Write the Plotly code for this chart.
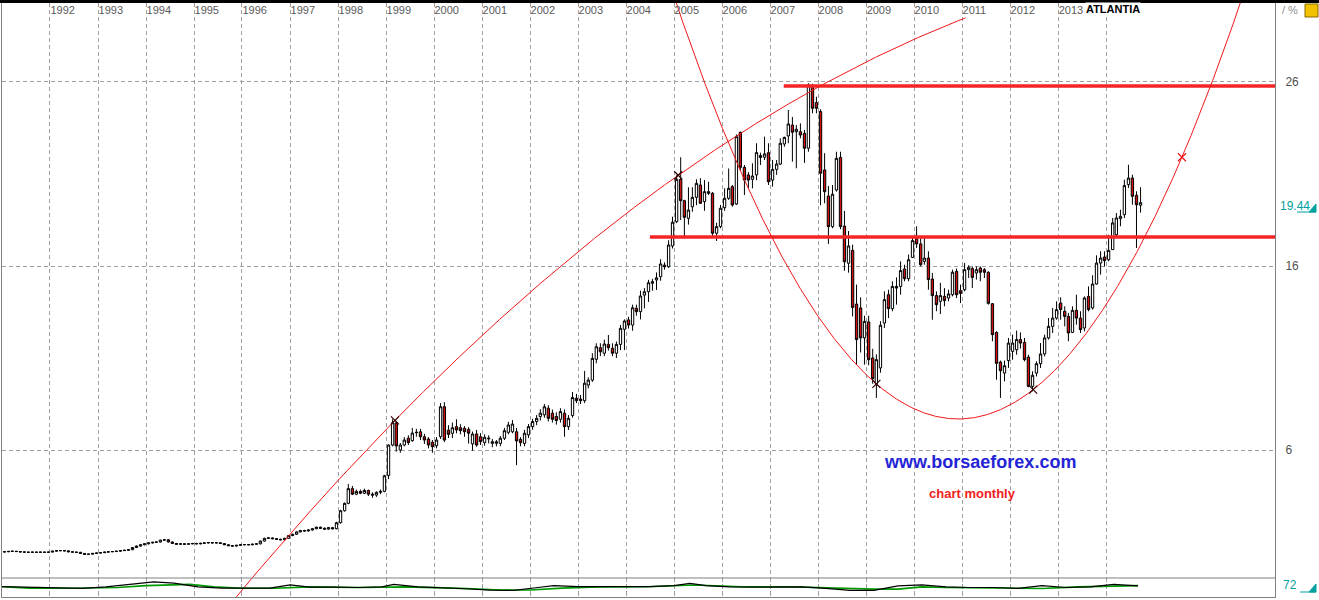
import numpy as np
import pandas as pd
import plotly.graph_objects as go

# ---------------- data (monthly candles, Jan 1991 .. Sep 2014) ----------------
opens = [
    0.46, 0.47, 0.49, 0.50, 0.48, 0.46, 0.45, 0.44, 0.45, 0.44, 0.45, 0.44,
    0.45, 0.50, 0.53, 0.53, 0.52, 0.47, 0.45, 0.44, 0.38, 0.33, 0.34, 0.38,
    0.40, 0.42, 0.45, 0.47, 0.48, 0.50, 0.53, 0.55, 0.58, 0.70, 0.78, 0.85,
    0.90, 0.95, 0.98, 1.00, 1.10, 1.12, 1.00, 0.92, 0.88, 0.90, 0.88, 0.90,
    0.92, 0.90, 0.93, 0.95, 0.97, 0.95, 0.96, 0.92, 0.85, 0.80, 0.78, 0.82,
    0.85, 0.86, 0.85, 0.88, 0.90, 1.05, 1.20, 1.22, 1.18, 1.15, 1.12, 1.20,
    1.35, 1.42, 1.55, 1.62, 1.60, 1.65, 1.72, 1.80, 1.75, 1.70, 1.78, 1.72,
    2.05, 2.70, 3.10, 3.90, 3.60, 3.75, 3.65, 3.80, 3.60, 3.55, 3.70, 3.75,
    4.62, 6.27, 7.47, 6.00, 6.27, 6.64, 6.51, 6.94, 6.99, 6.72, 6.60, 6.42,
    6.23, 6.72, 8.35, 7.08, 6.91, 7.27, 7.21, 7.18, 7.12, 6.33, 6.87, 6.72,
    6.40, 6.60, 6.36, 6.36, 6.36, 6.64, 6.96, 6.99, 6.99, 6.58, 6.36, 6.82,
    7.27, 7.55, 7.82, 7.91, 8.27, 8.00, 7.82, 7.67, 8.00, 7.27, 7.88, 8.81,
    8.77, 8.68, 9.53, 9.80, 10.93, 11.56, 11.26, 11.74, 11.53, 11.26, 11.74, 12.56,
    13.07, 12.79, 13.70, 13.52, 14.42, 14.60, 15.06, 15.24, 15.42, 16.05, 15.96, 17.09,
    18.41, 20.71, 19.55, 18.59, 19.22, 19.73, 20.40, 19.50, 20.04, 19.95, 17.78, 18.14,
    19.17, 19.68, 20.31, 19.37, 23.27, 21.36, 20.95, 20.71, 20.95, 22.00, 21.91, 22.16,
    20.67, 21.25, 21.54, 22.63, 23.07, 23.66, 23.30, 23.30, 23.21, 22.40, 25.78, 24.88,
    24.39, 21.22, 19.80, 18.14, 20.13, 21.90, 18.17, 16.15, 16.85, 13.93, 13.72, 12.09,
    12.96, 11.00, 9.60, 10.46, 12.90, 14.44, 13.68, 14.89, 14.89, 15.84, 15.31, 16.47,
    17.49, 17.20, 16.25, 16.43, 15.29, 14.39, 14.08, 14.35, 14.26, 14.44, 15.71, 14.66,
    14.71, 15.80, 15.86, 15.62, 15.89, 15.80, 15.66, 13.95, 12.39, 10.78, 10.18, 10.86,
    11.36, 11.45, 12.00, 11.85, 11.05, 9.46, 10.18, 10.69, 11.22, 12.09, 12.72, 13.17,
    13.99, 13.54, 13.26, 12.39, 13.59, 13.17, 12.63, 14.35, 13.72, 15.02, 16.16, 16.49,
    16.34, 16.89, 17.70, 18.57, 18.79, 20.42, 20.78, 19.84, 19.30,
]
highs = [
    0.49, 0.51, 0.52, 0.51, 0.49, 0.48, 0.47, 0.47, 0.47, 0.47, 0.47, 0.47,
    0.52, 0.55, 0.56, 0.55, 0.53, 0.49, 0.47, 0.46, 0.40, 0.36, 0.40, 0.42,
    0.44, 0.47, 0.49, 0.50, 0.52, 0.55, 0.57, 0.61, 0.73, 0.81, 0.88, 0.93,
    0.98, 1.01, 1.03, 1.13, 1.16, 1.15, 1.03, 0.95, 0.93, 0.93, 0.92, 0.95,
    0.95, 0.95, 0.97, 0.99, 1.00, 0.99, 0.98, 0.94, 0.87, 0.83, 0.84, 0.88,
    0.89, 0.89, 0.90, 0.93, 1.08, 1.23, 1.26, 1.25, 1.21, 1.18, 1.23, 1.38,
    1.45, 1.58, 1.66, 1.66, 1.69, 1.76, 1.84, 1.84, 1.78, 1.82, 1.82, 2.10,
    2.75, 3.15, 4.15, 4.05, 3.85, 3.85, 3.90, 3.85, 3.70, 3.75, 3.85, 4.65,
    6.30, 7.67, 7.58, 6.38, 6.70, 6.80, 7.20, 7.15, 7.15, 6.88, 6.70, 6.54,
    6.70, 8.55, 8.60, 7.35, 7.49, 7.67, 7.40, 7.30, 7.24, 7.00, 7.09, 6.91,
    6.85, 6.80, 6.60, 6.54, 6.76, 7.20, 7.53, 7.63, 7.20, 6.70, 7.09, 7.41,
    7.70, 7.90, 8.22, 8.50, 8.44, 8.20, 8.05, 8.27, 8.20, 7.90, 9.15, 9.05,
    8.99, 10.30, 9.95, 11.26, 11.80, 11.80, 12.00, 12.25, 11.80, 11.90, 12.79, 13.10,
    13.24, 13.90, 13.90, 14.66, 14.80, 15.25, 15.30, 15.65, 16.37, 16.20, 17.40, 18.68,
    20.93, 21.91, 19.60, 20.28, 20.28, 20.71, 20.77, 20.67, 20.58, 20.02, 18.35, 19.32,
    20.22, 21.30, 20.40, 23.15, 23.30, 21.49, 21.10, 21.58, 22.67, 22.16, 23.03, 22.67,
    21.76, 21.76, 22.94, 23.03, 24.48, 24.10, 23.66, 23.75, 23.39, 25.93, 25.90, 25.20,
    24.52, 22.13, 20.35, 20.40, 22.21, 22.21, 18.99, 17.90, 17.16, 14.99, 14.30, 13.30,
    13.30, 11.50, 11.20, 13.00, 14.62, 14.71, 15.17, 15.38, 16.25, 16.07, 16.62, 17.61,
    18.16, 17.61, 17.52, 16.80, 15.62, 14.62, 15.08, 14.80, 14.71, 15.80, 15.86, 14.99,
    16.16, 16.04, 15.98, 15.98, 15.98, 15.89, 15.71, 13.99, 12.45, 10.86, 10.86, 12.09,
    12.27, 12.49, 12.39, 12.09, 11.18, 10.28, 10.82, 11.81, 12.27, 13.17, 13.72, 14.08,
    14.30, 13.81, 13.45, 13.81, 14.44, 13.54, 14.35, 14.89, 15.50, 16.58, 16.80, 16.80,
    17.70, 18.61, 18.88, 19.06, 20.69, 21.50, 20.96, 20.06, 20.28,
]
lows = [
    0.44, 0.45, 0.47, 0.46, 0.44, 0.43, 0.42, 0.42, 0.42, 0.42, 0.42, 0.42,
    0.44, 0.48, 0.51, 0.50, 0.45, 0.43, 0.42, 0.36, 0.31, 0.30, 0.32, 0.36,
    0.38, 0.40, 0.43, 0.45, 0.46, 0.48, 0.51, 0.53, 0.56, 0.67, 0.75, 0.82,
    0.87, 0.92, 0.95, 0.97, 1.06, 0.98, 0.90, 0.86, 0.85, 0.86, 0.85, 0.87,
    0.88, 0.87, 0.90, 0.92, 0.93, 0.92, 0.90, 0.83, 0.78, 0.75, 0.76, 0.80,
    0.82, 0.82, 0.82, 0.85, 0.87, 1.02, 1.17, 1.15, 1.12, 1.09, 1.09, 1.17,
    1.32, 1.39, 1.52, 1.56, 1.57, 1.62, 1.69, 1.72, 1.66, 1.67, 1.68, 1.69,
    2.00, 2.65, 3.05, 3.55, 3.55, 3.60, 3.60, 3.50, 3.40, 3.45, 3.60, 3.70,
    4.42, 6.20, 5.91, 5.85, 6.20, 6.27, 6.45, 6.72, 6.54, 6.33, 6.09, 5.85,
    6.09, 6.60, 6.43, 6.65, 6.65, 6.91, 6.85, 6.72, 6.35, 5.96, 6.18, 6.27,
    6.23, 6.36, 6.15, 6.20, 6.20, 6.54, 6.85, 6.91, 5.18, 6.20, 6.20, 6.65,
    7.10, 7.35, 7.60, 7.75, 7.55, 7.49, 7.38, 7.49, 6.72, 7.09, 7.76, 8.55,
    8.50, 8.55, 9.35, 9.70, 10.71, 11.10, 11.10, 11.40, 11.10, 11.00, 11.43, 11.43,
    12.60, 12.48, 13.30, 13.10, 13.70, 14.05, 14.66, 14.70, 15.20, 15.80, 15.90, 16.95,
    18.33, 18.50, 17.50, 18.25, 18.95, 19.30, 19.37, 19.00, 19.86, 17.59, 17.36, 18.05,
    19.00, 19.59, 19.22, 19.32, 21.18, 19.86, 20.22, 20.22, 20.67, 21.49, 21.76, 20.40,
    20.31, 20.95, 21.49, 22.48, 22.67, 21.67, 21.31, 22.94, 21.60, 22.21, 24.30, 24.30,
    19.30, 19.41, 17.20, 18.05, 20.04, 18.00, 15.74, 15.64, 13.26, 10.64, 11.30, 10.64,
    10.60, 9.60, 8.83, 10.20, 12.63, 13.17, 13.54, 13.90, 14.44, 15.17, 15.17, 16.43,
    16.98, 15.98, 16.07, 14.71, 13.08, 13.54, 13.39, 13.81, 14.08, 14.35, 14.26, 13.99,
    14.62, 15.35, 14.80, 15.26, 15.17, 15.35, 13.90, 11.91, 9.82, 8.83, 9.73, 10.46,
    10.91, 11.18, 11.51, 10.82, 9.41, 9.19, 10.00, 10.46, 11.09, 12.00, 12.36, 13.08,
    13.08, 12.72, 11.91, 12.36, 12.81, 12.36, 12.45, 13.54, 13.63, 14.99, 15.53, 15.98,
    16.25, 16.89, 17.52, 18.16, 18.61, 20.24, 19.33, 16.98, 18.90,
]
closes = [
    0.47, 0.49, 0.50, 0.48, 0.46, 0.45, 0.44, 0.45, 0.44, 0.45, 0.44, 0.45,
    0.50, 0.53, 0.53, 0.52, 0.47, 0.45, 0.44, 0.38, 0.33, 0.34, 0.38, 0.40,
    0.42, 0.45, 0.47, 0.48, 0.50, 0.53, 0.55, 0.58, 0.70, 0.78, 0.85, 0.90,
    0.95, 0.98, 1.00, 1.10, 1.12, 1.00, 0.92, 0.88, 0.90, 0.88, 0.90, 0.92,
    0.90, 0.93, 0.95, 0.97, 0.95, 0.96, 0.92, 0.85, 0.80, 0.78, 0.82, 0.85,
    0.86, 0.85, 0.88, 0.90, 1.05, 1.20, 1.22, 1.18, 1.15, 1.12, 1.20, 1.35,
    1.42, 1.55, 1.62, 1.60, 1.65, 1.72, 1.80, 1.75, 1.70, 1.78, 1.72, 2.05,
    2.70, 3.10, 3.90, 3.60, 3.75, 3.65, 3.80, 3.60, 3.55, 3.70, 3.75, 4.60,
    6.27, 7.48, 6.22, 6.27, 6.54, 6.40, 6.92, 6.96, 6.72, 6.54, 6.27, 6.18,
    6.54, 8.35, 6.54, 6.85, 7.21, 7.09, 7.05, 6.99, 6.91, 6.87, 6.27, 6.45,
    6.69, 6.64, 6.45, 6.45, 6.64, 7.05, 7.36, 7.41, 6.49, 6.40, 6.91, 7.27,
    7.55, 7.72, 8.00, 8.35, 7.72, 7.67, 7.60, 8.09, 7.27, 7.72, 8.85, 8.68,
    8.68, 9.63, 9.80, 10.98, 11.61, 11.34, 11.76, 11.56, 11.26, 11.74, 12.61, 13.01,
    12.79, 13.73, 13.52, 14.37, 14.60, 15.09, 15.15, 15.36, 16.11, 15.96, 17.14, 18.38,
    20.71, 19.55, 18.65, 19.04, 19.73, 20.49, 19.41, 20.04, 19.95, 17.78, 18.14, 19.14,
    19.68, 20.22, 19.32, 23.03, 21.36, 20.67, 20.67, 20.89, 22.16, 21.90, 22.09, 20.58,
    21.25, 21.54, 22.67, 22.99, 23.72, 23.27, 23.43, 23.12, 22.40, 25.84, 24.57, 24.57,
    21.04, 20.04, 18.14, 19.90, 21.85, 18.14, 16.23, 17.09, 13.75, 12.00, 12.09, 12.99,
    10.91, 9.88, 10.91, 12.78, 14.17, 13.68, 14.89, 14.80, 15.75, 15.31, 16.34, 17.38,
    17.20, 16.07, 16.43, 15.26, 14.39, 13.90, 14.39, 14.12, 14.48, 15.66, 14.44, 14.51,
    15.80, 15.93, 15.38, 15.80, 15.66, 15.66, 13.97, 12.27, 10.71, 10.31, 10.58, 11.81,
    11.81, 12.00, 11.81, 10.91, 9.46, 10.06, 10.69, 11.22, 12.09, 12.72, 13.17, 13.63,
    13.63, 13.26, 12.36, 13.59, 13.17, 12.54, 14.26, 13.63, 15.02, 16.16, 16.43, 16.29,
    16.85, 18.34, 18.61, 18.70, 20.37, 20.78, 19.79, 19.33, 19.44,
]

# indicator panel (two oscillator lines)
osc_black_dates = ["1991-01", "1991-06", "1991-11", "1992-04", "1992-09", "1993-03", "1993-09",
                   "1994-03", "1994-08", "1995-02", "1995-08", "1996-02", "1996-08", "1997-01",
                   "1997-06", "1997-12", "1998-06", "1998-12", "1999-03", "1999-09", "2000-03",
                   "2000-09", "2001-03", "2001-09", "2002-03", "2002-07", "2003-01", "2003-07",
                   "2004-01", "2004-07", "2005-01", "2005-05", "2005-09", "2006-03", "2006-09",
                   "2007-03", "2007-09", "2008-03", "2008-09", "2009-03", "2009-09", "2010-03",
                   "2010-09", "2011-03", "2011-09", "2012-03", "2012-09", "2013-03", "2013-09",
                   "2014-03", "2014-09"]
osc_black_vals = [72.6, 71, 70, 68, 67.5, 72, 80, 88, 84, 72, 68, 67.5, 68, 78, 71, 71, 70, 72,
                  80, 72, 70, 66, 62, 61, 70, 76, 72.6, 72, 73, 72.6, 76, 83, 76, 72, 71, 72, 72,
                  67.5, 61, 61, 75, 78, 72, 70, 70, 67.5, 76, 70, 72, 80, 75]
osc_green_dates = ["1991-01", "1991-08", "1992-06", "1993-06", "1994-01", "1994-06", "1994-12",
                   "1995-06", "1996-01", "1996-09", "1997-06", "1998-06", "1999-06", "2000-06",
                   "2001-06", "2002-01", "2002-09", "2003-06", "2004-06", "2005-06", "2006-06",
                   "2007-06", "2008-06", "2009-03", "2009-09", "2010-03", "2010-09", "2011-06",
                   "2012-03", "2012-09", "2013-06", "2014-03", "2014-09"]
osc_green_vals = [72.6, 68, 67.5, 70, 76, 78, 80, 72, 67.5, 67.5, 72, 70, 72, 68, 62, 62, 68, 72,
                  72.6, 78, 72.6, 72.6, 67, 65, 65, 72, 70, 68, 67, 67, 72, 74, 76]

year_ticks = list(range(1992, 2015))
hidden_year_labels = [2014]          # covered by the title box in the reference
price_ticks = [6, 16, 26]
last_close_label = "19.44"
osc_label = "72"

# hand-drawn analysis lines
resistance_level, resistance_start = 25.78, "2007-04-15"
support_level, support_start = 17.58, "2004-07-01"
arc_anchor_dates = ["1999-03-10", "2005-02-01", "2010-01-01"]
arc_anchor_vals = [7.61, 20.93, 28.32]
arc_span = ("1995-06-01", "2011-02-01")
cup_anchor_dates = ["2009-03-20", "2012-06-25", "2015-08-01"]
cup_anchor_vals = [9.59, 9.28, 21.91]
cup_span = ("2004-09-01", "2016-12-31")

# ---------------- figure ----------------
W, H = 1319, 600
ML, MR, MT, MB = 2, 44, 3, 3
PW, PH = W - ML - MR, H - MT - MB
def px_x(px):
    return (px - ML) / PW
def px_y(py):
    return (H - MB - py) / PH

X_RANGE = ["1991-01-01", "2017-07-09"]
Y_RANGE = [-1.989, 30.293]

dates = pd.date_range("1991-01-01", periods=len(closes), freq="MS") + pd.Timedelta(days=19)

def dec_year(d):
    d = pd.Timestamp(d)
    return d.year + (d.dayofyear - 1) / (366 if d.is_leap_year else 365)

def parabola(anchor_dates, anchor_vals, span):
    t = np.array([dec_year(d) for d in anchor_dates]) - 2000
    coef = np.polyfit(t, anchor_vals, 2)
    xs = pd.date_range(span[0], span[1], freq="5D")
    ts = np.array([dec_year(d) for d in xs]) - 2000
    return xs, np.polyval(coef, ts)

fig = go.Figure()

RED = "#F01818"
fig.add_trace(go.Scatter(x=[support_start, X_RANGE[1]], y=[support_level] * 2, mode="lines",
                         line=dict(color="#F52525", width=3.5), hoverinfo="skip"))
fig.add_trace(go.Scatter(x=[resistance_start, X_RANGE[1]], y=[resistance_level] * 2, mode="lines",
                         line=dict(color="#F52525", width=3.5), hoverinfo="skip"))

fig.add_trace(go.Candlestick(
    x=dates, open=opens, high=highs, low=lows, close=closes,
    increasing=dict(line=dict(color="black", width=1), fillcolor="white"),
    decreasing=dict(line=dict(color="black", width=1), fillcolor="#D01010"),
    whiskerwidth=0,
))

ax, ay = parabola(arc_anchor_dates, arc_anchor_vals, arc_span)
fig.add_trace(go.Scatter(x=ax, y=ay, mode="lines", line=dict(color=RED, width=1), hoverinfo="skip"))
cx, cy = parabola(cup_anchor_dates, cup_anchor_vals, cup_span)
fig.add_trace(go.Scatter(x=cx, y=cy, mode="lines", line=dict(color=RED, width=1), hoverinfo="skip"))

mark_dates = arc_anchor_dates[:2] + cup_anchor_dates
mark_vals = arc_anchor_vals[:2] + cup_anchor_vals
mark_cols = ["#300000", "#300000", "#300000", "#300000", RED]
fig.add_trace(go.Scatter(x=mark_dates, y=mark_vals, mode="markers",
                         marker=dict(symbol="x-thin", size=8, line=dict(width=1.2, color=mark_cols)),
                         hoverinfo="skip"))

# oscillator panel
fig.add_trace(go.Scatter(x=osc_green_dates, y=osc_green_vals, mode="lines", yaxis="y2",
                         line=dict(color="#009A00", width=1.6), hoverinfo="skip"))
fig.add_trace(go.Scatter(x=osc_black_dates, y=osc_black_vals, mode="lines", yaxis="y2",
                         line=dict(color="black", width=1.2), hoverinfo="skip"))

GRID = "#A0A0A0"
FONT = "Liberation Sans, Arial, sans-serif"
fig.update_layout(
    width=W, height=H, margin=dict(l=ML, r=MR, t=MT, b=MB, autoexpand=False),
    paper_bgcolor="white", plot_bgcolor="rgba(0,0,0,0)",
    showlegend=False, boxgap=0.1,
    font=dict(family=FONT),
    xaxis=dict(
        type="date", range=X_RANGE, side="top",
        tickvals=[f"{y}-01-01" for y in year_ticks],
        ticktext=["" if y in hidden_year_labels else str(y) for y in year_ticks],
        ticklabelposition="inside right", ticks="",
        tickfont=dict(size=11, color="#5A5A5A", family=FONT),
        showgrid=True, gridcolor=GRID, gridwidth=1, griddash="4px,3px",
        showline=True, linecolor="#808080", linewidth=1, mirror=True,
        zeroline=False, rangeslider=dict(visible=False), fixedrange=True,
    ),
    yaxis=dict(
        domain=[0, 1], range=Y_RANGE, side="right",
        tickvals=price_ticks, ticktext=[str(v) for v in price_ticks], ticks="",
        ticklabelstandoff=7,
        tickfont=dict(size=12, color="#505050", family=FONT),
        showgrid=True, gridcolor=GRID, gridwidth=1, griddash="4px,3px",
        showline=True, linecolor="#808080", linewidth=1, mirror=True, zeroline=False,
    ),
    yaxis2=dict(
        domain=[0, 19 / PH], range=[40, 100], anchor="x",
        showgrid=False, showticklabels=False, zeroline=False, ticks="",
    ),
)

shapes = [
    dict(type="line", xref="paper", yref="paper", x0=0, x1=1, y0=19 / PH, y1=19 / PH,
         line=dict(color="#808080", width=1)),
    dict(type="rect", xref="paper", yref="paper", x0=px_x(0), x1=px_x(W), y0=px_y(3), y1=px_y(0),
         fillcolor="black", line=dict(width=0), layer="above"),
    dict(type="rect", xref="paper", yref="paper", x0=px_x(1305), x1=px_x(1318), y0=px_y(17), y1=px_y(4),
         fillcolor="#F2C200", line=dict(color="#8A6A00", width=1)),
]
for (ux0, ux1, uy, tri_top) in [(1297, 1316, 212, 204), (1300, 1316, 592, 584)]:
    shapes.append(dict(type="line", xref="paper", yref="paper", x0=px_x(ux0), x1=px_x(ux1),
                       y0=px_y(uy), y1=px_y(uy), line=dict(color="#00A0A0", width=1)))
    shapes.append(dict(type="path", xref="paper", yref="paper",
                       path=f"M {px_x(ux1 - 7)},{px_y(uy)} L {px_x(ux1)},{px_y(uy)} L {px_x(ux1)},{px_y(tri_top)} Z",
                       fillcolor="#00A0A0", line=dict(color="#00A0A0", width=1)))
fig.update_layout(shapes=shapes)

annotations = [
    dict(text="<b>ATLANTIA</b>", xref="paper", yref="paper", x=px_x(1113), y=px_y(9),
         showarrow=False, font=dict(size=11, color="black", family=FONT), bgcolor="white",
         xanchor="center", yanchor="middle", borderpad=0),
    dict(text="<b>www.borsaeforex.com</b>", xref="paper", yref="paper", x=px_x(980), y=px_y(462),
         showarrow=False, font=dict(size=18, color="#2424D6", family=FONT), xanchor="center", yanchor="middle"),
    dict(text="<b>chart monthly</b>", xref="paper", yref="paper", x=px_x(972), y=px_y(493),
         showarrow=False, font=dict(size=13, color="#F02020", family=FONT), xanchor="center", yanchor="middle"),
    dict(text=last_close_label, xref="paper", yref="y", x=px_x(1278), y=closes[-1], yshift=-3,
         showarrow=False, font=dict(size=12, color="#00A0A0", family=FONT), xanchor="left", yanchor="middle"),
    dict(text=osc_label, xref="paper", yref="paper", x=px_x(1281), y=px_y(585),
         showarrow=False, font=dict(size=12, color="#00A0A0", family=FONT), xanchor="left", yanchor="middle"),
    dict(text="/ %", xref="paper", yref="paper", x=px_x(1280), y=px_y(10),
         showarrow=False, font=dict(size=11, color="#909090", family=FONT), xanchor="left", yanchor="middle"),
]
fig.update_layout(annotations=annotations)

fig.write_html("out.html", config={"displayModeBar": False, "staticPlot": True},
               post_script="document.body.style.margin='0px';")
